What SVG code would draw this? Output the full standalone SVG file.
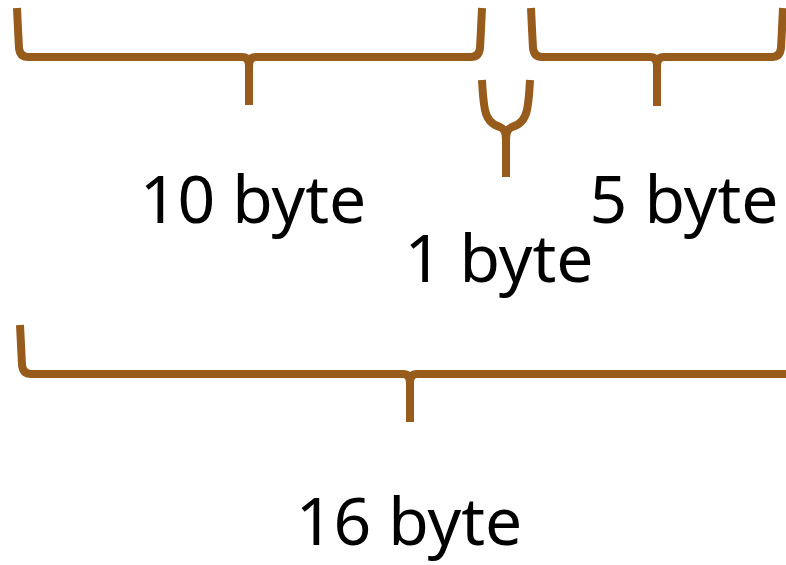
<svg xmlns="http://www.w3.org/2000/svg" width="786" height="565" viewBox="0 0 786 565">
<style>
.br{fill:none;stroke:#975B1C;stroke-width:8;stroke-linecap:butt;stroke-linejoin:round}
.lb{font-family:"Noto Sans","Open Sans",sans-serif;font-size:66px;fill:#000;text-anchor:middle}
</style>
<rect width="786" height="565" fill="#fff"/>
<g id="connectors">
<path class="br" d="M17,8 Q18,30 19,48 Q20,57 28,57 L242,57 Q249,57 249,66 L249,105 M249,66 Q249,57 256,57 L471,57 Q479,57 480,48 Q481,30 482,8"/>
<path class="br" d="M531,8 Q532,30 533,48 Q534,57 542,57 L650,57 Q657,57 657,66 L657,106 M657,66 Q657,57 664,57 L772,57 Q780,57 781,48 Q782,30 783,8"/>
<path class="br" d="M482,80 Q483,100 485,110 Q488,124 500,127 Q506,129 506,140 L506,177 M530,80 Q529,100 527,110 Q524,124 512,127 Q506,129 506,140"/>
<path class="br" d="M20,325 Q21,345 22,365 Q23,374 31,374 L403,374 Q410,374 410,383 L410,422 M410,383 Q410,374 417,374 L790,374"/>
</g>
<g id="label-10"><text class="lb" x="253" y="223">10 byte</text></g>
<g id="label-5"><text class="lb" x="684" y="223">5 byte</text></g>
<g id="label-1"><text class="lb" x="499" y="282">1 byte</text></g>
<g id="label-16"><text class="lb" x="409" y="545">16 byte</text></g>
</svg>
